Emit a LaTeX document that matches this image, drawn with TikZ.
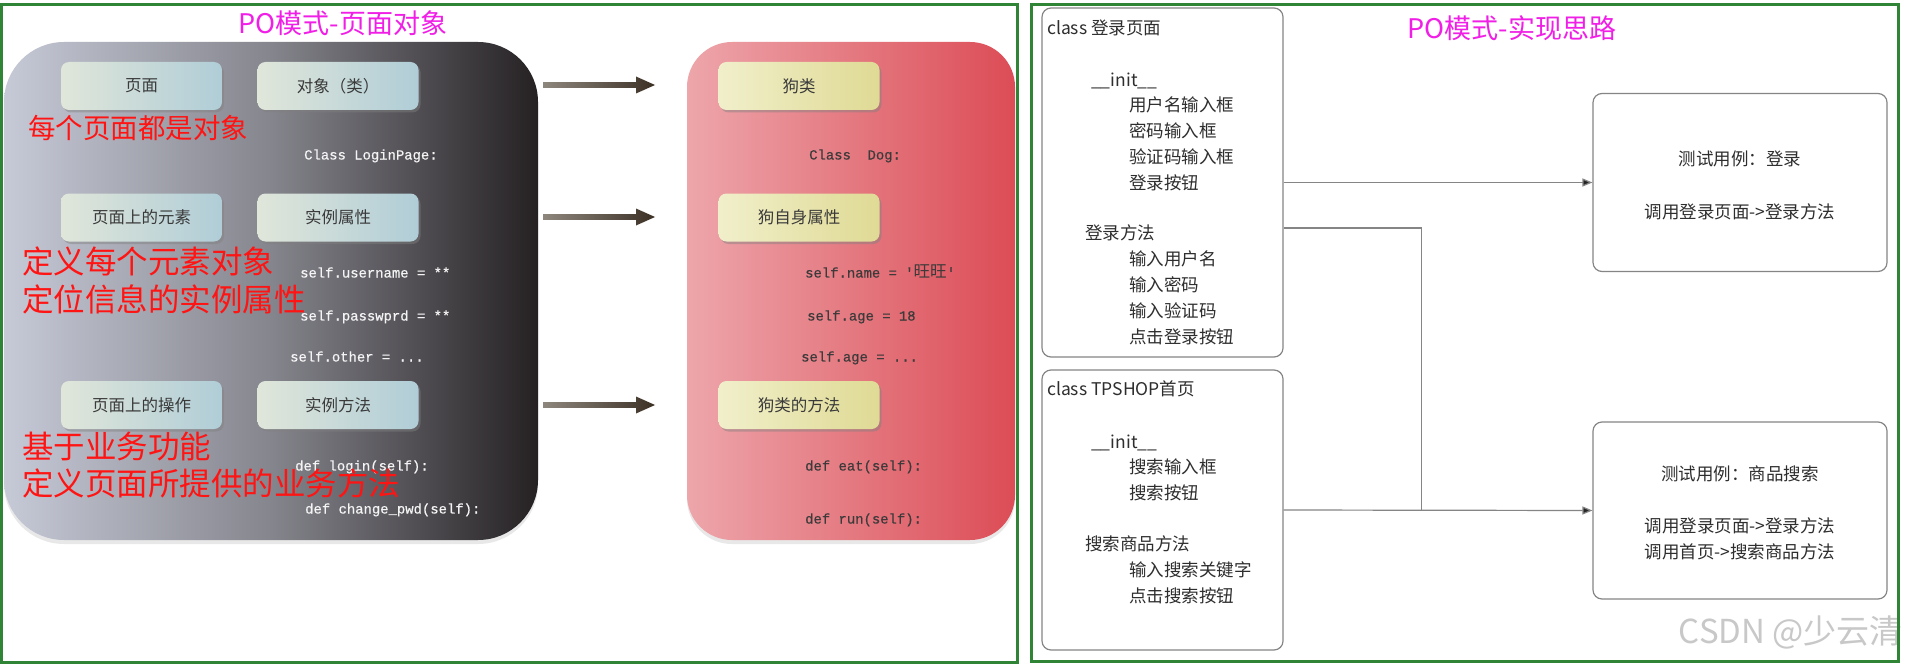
\documentclass[tikz,border=0pt]{standalone}
\usepackage{fontspec}
\setmainfont{Noto Sans CJK SC}
\newfontfamily\cjkf{Noto Sans CJK SC}
\newfontfamily\codef[FakeBold=0.5]{Liberation Mono}
\usetikzlibrary{arrows.meta,shadows,calc}
\definecolor{frameg}{HTML}{2F8436}
\definecolor{magt}{HTML}{F01EE6}
\definecolor{redt}{HTML}{FF1414}
\definecolor{darkL}{HTML}{C6CAD7}
\definecolor{darkM}{HTML}{85858D}
\definecolor{darkR}{HTML}{252123}
\definecolor{pinkL}{HTML}{EDA6AB}
\definecolor{pinkR}{HTML}{DC4C56}
\definecolor{boxL}{HTML}{E0E6DA}
\definecolor{boxR}{HTML}{B0CDD7}
\definecolor{dogL}{HTML}{F1EFCB}
\definecolor{dogR}{HTML}{DFDA94}
\definecolor{arrL}{HTML}{8E877E}
\definecolor{arrR}{HTML}{3C3024}
\definecolor{boxtxt}{HTML}{3A3A3A}
\definecolor{codew}{HTML}{F4F4F4}
\definecolor{coded}{HTML}{3C3A3A}
\definecolor{uml}{HTML}{858585}
\definecolor{umltxt}{HTML}{2E2E2E}
\definecolor{wm}{HTML}{C8C8C8}
\newcommand\fatarrow[2]{%
  \shade[left color=arrL, right color=arrR]
    ($(#1)+(0,-2.8)$) -- ($(#2)+(-19,-2.8)$) -- ($(#2)+(-19,-8.5)$) -- (#2)
    -- ($(#2)+(-19,8.5)$) -- ($(#2)+(-19,2.8)$) -- ($(#1)+(0,2.8)$) -- cycle;}
\begin{document}
\begin{tikzpicture}[x=1pt,y=-1pt,
  panel/.style={draw=none, inner sep=0pt},
  lbox/.style={rounded corners=8pt, left color=boxL, right color=boxR,
    minimum width=161pt, minimum height=48pt, inner sep=0pt, text=boxtxt,
    font=\fontsize{16.5}{18}\selectfont,
    drop shadow={shadow xshift=2pt, shadow yshift=-2.5pt, opacity=0.45}},
  dbox/.style={lbox, left color=dogL, right color=dogR},
  redtxt/.style={anchor=west, inner sep=0pt, text=redt, text height=27.7pt, text depth=3.8pt,
    font=\fontsize{31.5}{32}\selectfont},
  codetxt/.style={anchor=west, inner sep=0pt, text=codew, text height=12.2pt, text depth=1.2pt,
    font=\codef\fontsize{13.9}{16}\selectfont},
  dcode/.style={codetxt, text=coded},
  title/.style={inner sep=0pt, text=magt, font=\fontsize{27}{28}\selectfont},
  umlbox/.style={draw=uml, line width=1.2pt, rounded corners=9pt, inner sep=0pt},
  ut/.style={anchor=west, inner sep=0pt, text=umltxt, text height=15.4pt, text depth=2.1pt,
    font=\fontsize{17.5}{20}\selectfont},
  ct/.style={inner sep=0pt, text=umltxt, text height=15.4pt, text depth=2.1pt,
    font=\fontsize{17.5}{20}\selectfont},
  conn/.style={draw=uml, line width=1.2pt},
  tip/.style={-{Triangle[length=10pt,width=8pt,fill=black!85]}},
  frame/.style={draw=frameg, line width=3pt, inner sep=0pt}]
\useasboundingbox (0,0) rectangle (1905,666);
\fill[white] (0,0) rectangle (1905,666);

% ===== left half: page object =====
\node[panel, rounded corners=60pt, left color=darkL, right color=darkR, middle color=darkM,
  minimum width=534pt, minimum height=498pt,
  drop shadow={shadow xshift=0pt, shadow yshift=-4pt, opacity=0.18}] (dp) at (271,291) {};
\node[panel, rounded corners=45pt, left color=pinkL, right color=pinkR,
  minimum width=328pt, minimum height=498pt,
  drop shadow={shadow xshift=0pt, shadow yshift=-4pt, opacity=0.18}] (pp) at (851,291) {};

\node[title] (t1) at (343,23) {PO模式-页面对象};

\node[lbox] (b11) at (141.5,86) {页面};
\node[lbox] (b12) at (338,86) {对象（类）};
\node[lbox] (b21) at (141.5,217.5) {页面上的元素};
\node[lbox] (b22) at (338,217.5) {实例属性};
\node[lbox] (b31) at (141.5,405) {页面上的操作};
\node[lbox] (b32) at (338,405) {实例方法};

\node[dbox] (d1) at (799,86) {狗类};
\node[dbox] (d2) at (799,217.5) {狗自身属性};
\node[dbox] (d3) at (799,405) {狗类的方法};

\coordinate (a1s) at (543,85);  \coordinate (a1e) at (655,85);
\coordinate (a2s) at (543,217); \coordinate (a2e) at (655,217);
\coordinate (a3s) at (543,405); \coordinate (a3e) at (655,405);
\fatarrow{a1s}{a1e}
\fatarrow{a2s}{a2e}
\fatarrow{a3s}{a3e}

\node[codetxt] (c1) at (304,154) {Class LoginPage:};
\node[codetxt] (c2) at (300,272) {self.username = **};
\node[codetxt] (c3) at (300,315) {self.passwprd = **};
\node[codetxt] (c4) at (290,356) {self.other = ...};
\node[codetxt] (c5) at (295,465) {def login(self):};
\node[codetxt] (c6) at (305,508) {def change\_pwd(self):};

\node[dcode] (e1) at (809,154) {Class\ \ Dog:};
\node[dcode] (e2) at (805,272) {self.name = '{\cjkf\fontsize{16.6}{16}\selectfont 旺旺}'};
\node[dcode] (e3) at (807,315) {self.age = 18};
\node[dcode] (e4) at (801,356) {self.age = ...};
\node[dcode] (e5) at (805,465) {def eat(self):};
\node[dcode] (e6) at (805,518) {def run(self):};

\node[redtxt, text height=24.2pt, text depth=3.3pt, font=\fontsize{27.5}{28}\selectfont] (r1) at (28,128) {每个页面都是对象};
\node[redtxt] (r2) at (22,262) {定义每个元素对象};
\node[redtxt] (r3) at (22,300) {定位信息的实例属性};
\node[redtxt] (r4) at (22,447) {基于业务功能};
\node[redtxt] (r5) at (22,484) {定义页面所提供的业务方法};

% ===== right half: implementation idea =====
\node[title] (t2) at (1512,28) {PO模式-实现思路};

\node[umlbox, minimum width=241pt, minimum height=349pt] (u1) at (1162.5,182.5) {};
\node[umlbox, minimum width=241pt, minimum height=280pt] (u2) at (1162.5,510) {};
\node[umlbox, minimum width=294pt, minimum height=178pt] (v1) at (1740,182.5) {};
\node[umlbox, minimum width=294pt, minimum height=177pt] (v2) at (1740,510.5) {};

\node[ut] (p1) at (1047,28) {class 登录页面};
\node[ut] (p2) at (1091,80) {\_\_init\_\_};
\node[ut] (p3) at (1129,105) {用户名输入框};
\node[ut] (p4) at (1129,131) {密码输入框};
\node[ut] (p5) at (1129,157) {验证码输入框};
\node[ut] (p6) at (1129,183) {登录按钮};
\node[ut] (p7) at (1085,233) {登录方法};
\node[ut] (p8) at (1129,259) {输入用户名};
\node[ut] (p9) at (1129,285) {输入密码};
\node[ut] (p10) at (1129,311) {输入验证码};
\node[ut] (p11) at (1129,337) {点击登录按钮};

\node[ut] (q1) at (1047,389) {class TPSHOP首页};
\node[ut] (q2) at (1091,442) {\_\_init\_\_};
\node[ut] (q3) at (1129,467) {搜索输入框};
\node[ut] (q4) at (1129,493) {搜索按钮};
\node[ut] (q5) at (1085,544) {搜索商品方法};
\node[ut] (q6) at (1129,570) {输入搜索关键字};
\node[ut] (q7) at (1129,596) {点击搜索按钮};

\node[ct] (w1) at (1740,159) {测试用例：登录};
\node[ct] (w2) at (1740,212) {调用登录页面->登录方法};
\node[ct] (x1) at (1740,474) {测试用例：商品搜索};
\node[ct] (x2) at (1740,526) {调用登录页面->登录方法};
\node[ct] (x3) at (1740,552) {调用首页->搜索商品方法};

\draw[conn, tip] (u1.east) -- (v1.west);
\draw[conn, tip] (u2.east) -- (v2.west);
\coordinate (j1) at ($(u1.east)+(0,45.5)$);
\coordinate (j2) at ($(v2.west)+(-171,0)$);
\draw[conn] (j1) -| (j2);

\node[anchor=east, inner sep=0pt, text=wm, font=\fontsize{33}{34}\selectfont] (wmk) at (1903,632) {CSDN @少云清};

% frames
\node[frame, minimum width=1016pt, minimum height=658pt] (fl) at (509.5,333.5) {};
\node[frame, minimum width=867pt, minimum height=657pt] (fr) at (1464.5,333) {};
\end{tikzpicture}
\end{document}
